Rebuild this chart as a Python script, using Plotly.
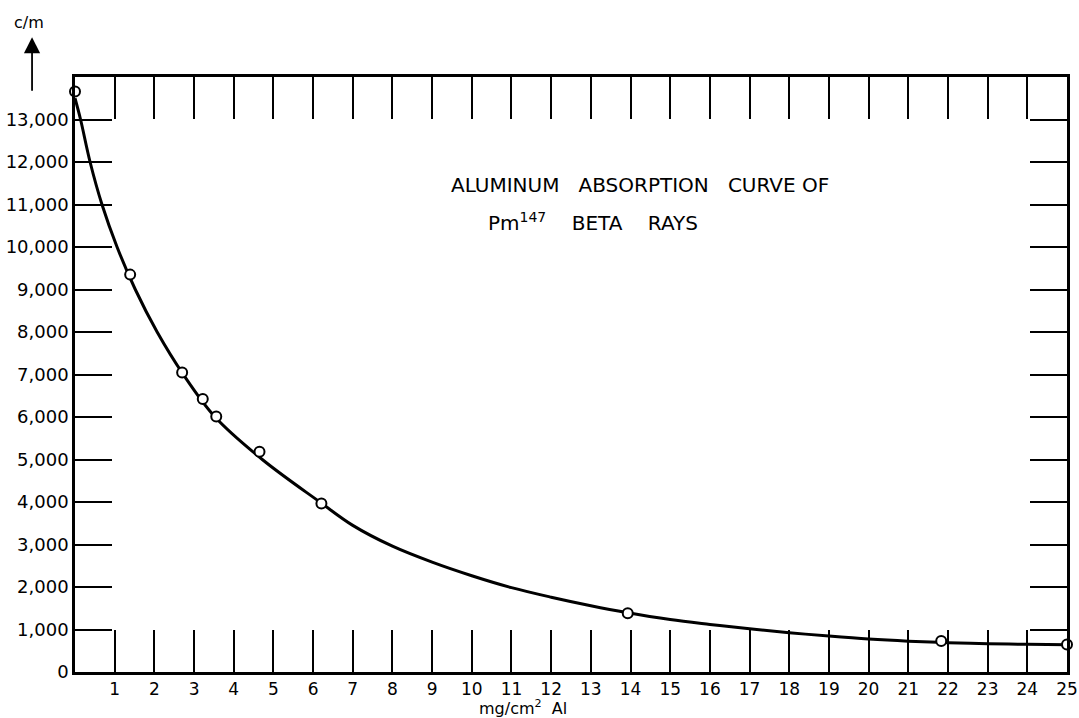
import plotly.graph_objects as go

# Measured counts (c/m) versus aluminium absorber thickness (mg/cm^2)
thickness = [0.0, 1.39, 2.70, 3.22, 3.56, 4.65, 6.21, 13.93, 21.83, 25.0]
counts = [13660, 9350, 7045, 6425, 6010, 5185, 3965, 1385, 730, 645]

# Smooth absorption curve drawn through the measurements
curve_x = [0, 0.14, 0.38, 0.68, 1.06, 1.52, 2.07, 2.73, 3.53, 4.72, 6.17, 7, 8,
           9, 10, 11, 12, 13, 13.9, 15, 16, 17, 18, 19, 20, 21, 22, 23, 24, 25]
curve_y = [13500, 13000, 12000, 11000, 10000, 9000, 8000, 7000, 6000, 5000, 4000,
           3450, 2960, 2585, 2265, 1985, 1760, 1560, 1400, 1235, 1120, 1015, 925,
           845, 775, 725, 690, 667, 651, 640]

# Axis ticks
x_ticks = list(range(1, 26))
x_tick_text = [str(v) for v in x_ticks]
y_ticks = list(range(0, 14000, 1000))
y_tick_text = ["0"] + [f"{v:,}" for v in y_ticks[1:]]

FONT = "DejaVu Sans"

fig = go.Figure()
fig.add_trace(go.Scatter(
    x=curve_x, y=curve_y, mode="lines",
    line=dict(color="black", width=3, shape="spline", smoothing=1.0),
    hoverinfo="skip", showlegend=False, cliponaxis=False,
))
fig.add_trace(go.Scatter(
    x=thickness, y=counts, mode="markers",
    marker=dict(symbol="circle", size=10, color="white",
                line=dict(color="black", width=2)),
    showlegend=False, cliponaxis=False,
))

fig.update_xaxes(
    range=[0, 25], tickvals=x_ticks, ticktext=x_tick_text,
    ticks="inside", ticklen=42, tickwidth=2, tickcolor="black",
    showline=True, linewidth=2.5, linecolor="black", mirror="ticks",
    showgrid=False, zeroline=False, automargin=False,
    tickfont=dict(family=FONT, size=17, color="black"),
)
fig.update_yaxes(
    range=[0, 14000], tickvals=y_ticks, ticktext=y_tick_text,
    ticks="inside", ticklen=37, tickwidth=2, tickcolor="black",
    showline=True, linewidth=2.5, linecolor="black", mirror="ticks",
    showgrid=False, zeroline=False, automargin=False,
    tickfont=dict(family=FONT, size=18, color="black"),
)

annotations = [
    dict(text="ALUMINUM   ABSORPTION   CURVE OF", xref="paper", yref="paper",
         x=0.377, y=0.8185, xanchor="left", yanchor="middle", showarrow=False,
         font=dict(family=FONT, size=20, color="black")),
    dict(text="Pm<sup>147</sup>    BETA    RAYS", xref="paper", yref="paper",
         x=0.414, y=0.756, xanchor="left", yanchor="middle", showarrow=False,
         font=dict(family=FONT, size=20, color="black")),
    dict(text="mg/cm<sup>2</sup>  Al", xref="paper", yref="paper",
         x=0.452, y=-0.0605, xanchor="center", yanchor="middle", showarrow=False,
         font=dict(family=FONT, size=16, color="black")),
    dict(text="c/m", xref="paper", yref="paper",
         x=-0.0464, y=1.092, xanchor="center", yanchor="middle", showarrow=False,
         font=dict(family=FONT, size=16, color="black")),
    dict(text="", xref="paper", yref="paper", x=-0.0433, y=1.067,
         ax=0, ay=55, axref="pixel", ayref="pixel",
         showarrow=True, arrowhead=2, arrowsize=1.8, arrowwidth=1.8,
         arrowcolor="black"),
]

fig.update_layout(
    width=1079, height=718,
    margin=dict(l=75, r=12, t=77, b=46),
    paper_bgcolor="white", plot_bgcolor="white",
    annotations=annotations,
    showlegend=False,
)

fig.write_html("out.html")
